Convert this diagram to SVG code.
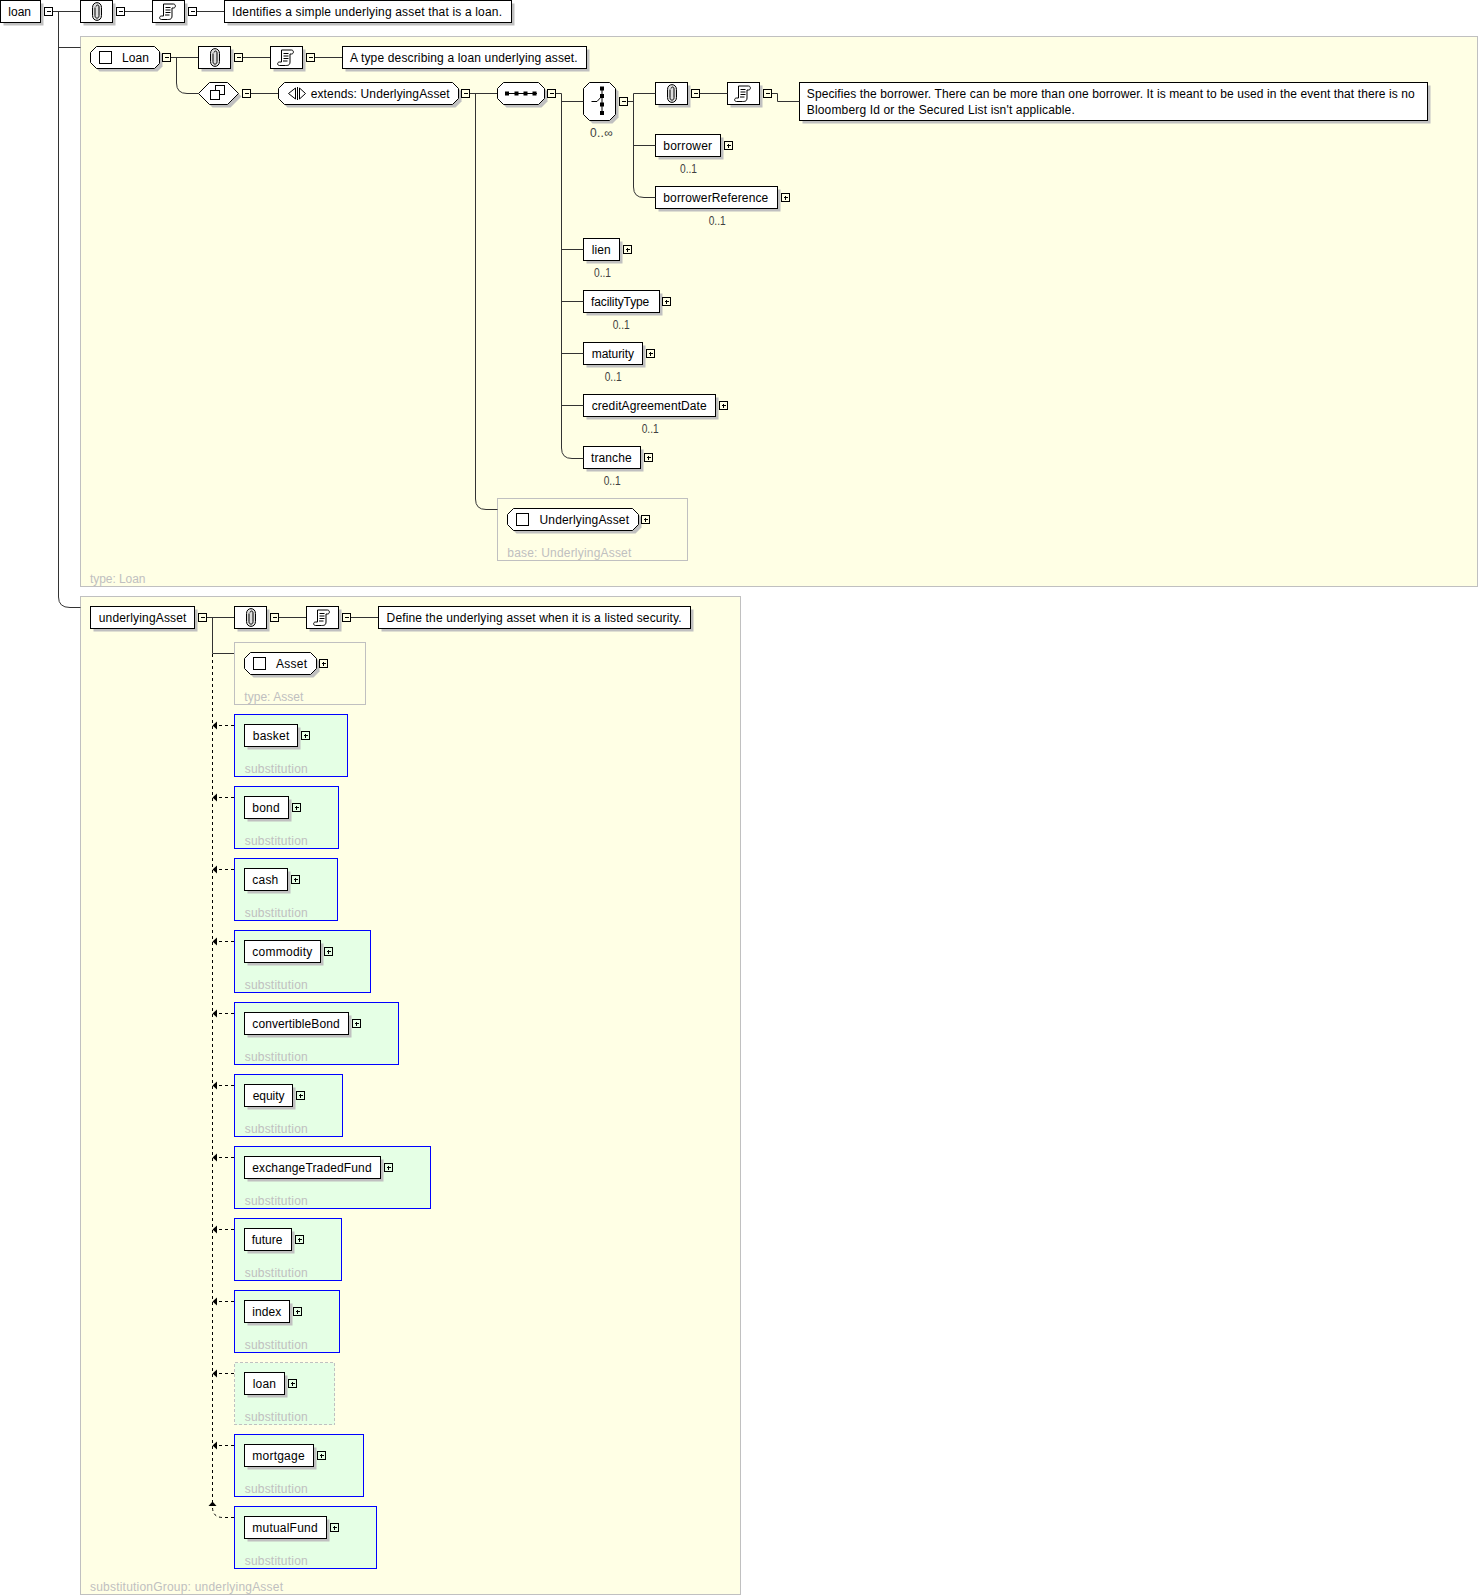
<svg xmlns="http://www.w3.org/2000/svg" width="1479" height="1596" viewBox="0 0 1479 1596">
<style>
text{font-family:"Liberation Sans",Arial,sans-serif;font-size:12px;fill:#000}
.o{fill:#404040}
.g{fill:#c0c0c0}
.n{fill:#fff;stroke:#000;stroke-width:1;shape-rendering:crispEdges}
.h{fill:#fff;stroke:#000;stroke-width:1}
.s{fill:#c0c0c0;stroke:none}
.y{fill:#ffffe5;stroke:#c0c0c0;stroke-width:1;shape-rendering:crispEdges}
.b{fill:#e5ffe5;stroke:#00f;stroke-width:1;shape-rendering:crispEdges}
.d{fill:#e5ffe5;stroke:#c0c0c0;stroke-width:1;stroke-dasharray:3 2;shape-rendering:crispEdges}
.c{fill:none;stroke:#333;stroke-width:1;shape-rendering:geometricPrecision}
.a{fill:none;stroke:#000;stroke-width:1;stroke-dasharray:3 3}
.i{fill:none;stroke:#000;stroke-width:1}
.k{fill:#000;stroke:none}
</style>
<defs>
<g id="m"><rect class="i" x="0" y="0" width="8" height="8" shape-rendering="crispEdges"/><path class="i" d="M2 4H6" shape-rendering="crispEdges"/></g>
<g id="p"><rect class="i" x="0" y="0" width="8" height="8" shape-rendering="crispEdges"/><path class="i" d="M2 4H6M4 2V6" shape-rendering="crispEdges"/></g>
<g id="clip"><rect class="s" x="3" y="3" width="32" height="22"/><rect class="n" x="0" y="0" width="32" height="22"/><path fill="#ddd" stroke="#000" d="M12 7C12 .5 21 .5 21 7V15C21 21.500 12 21.500 12 15Z"/><path class="i" d="M14.500 7V15C14.500 18.500 18.500 18.500 18.500 15V6.500C18.500 4 16 4 15.500 6"/></g>
<g id="doc"><rect class="s" x="3" y="3" width="32" height="22"/><rect class="n" x="0" y="0" width="32" height="22"/><path class="i" d="M11 3.500H21C23.500 3.500 23.500 7.500 21 7.500H19.500V15.500C19.500 19 17 19 15 19H9C6.500 19 6.500 15.500 9 15.500H11Z"/><path class="i" d="M13 7H18M13 9.500H18M13 12H18M12.500 14.500H17" stroke-width="1.200"/></g>
<marker id="ar" markerUnits="userSpaceOnUse" markerWidth="6" markerHeight="10" refX="5" refY="4.500" orient="auto" viewBox="0 0 6 9"><path class="k" d="M0.500 0.500V8.500L5 4.500Z"/></marker>
</defs>

<g id="loan"><rect class="s" x="3.500" y="3.500" width="40" height="22"/><rect class="n" x="0.500" y="0.500" width="40" height="22"/><text x="8.300" y="16" textLength="22.700">loan</text><use href="#m" x="44.500" y="7.500"/></g>
<g id="loan-annotation"><use href="#clip" x="80.500" y="0.500"/><use href="#m" x="116.500" y="7.500"/></g>
<g id="loan-doc"><use href="#doc" x="152.500" y="0.500"/><use href="#m" x="188.500" y="7.500"/></g>
<g id="loan-text"><rect class="s" x="227.500" y="3.500" width="287" height="22"/><rect class="n" x="224.500" y="0.500" width="287" height="22"/><text x="232" y="16" textLength="270">Identifies a simple underlying asset that is a loan.</text></g>

<g id="type-loan"><rect class="y" x="80.500" y="36.500" width="1397" height="550"/><text class="g" x="90" y="583" textLength="55.500">type: Loan</text></g>

<g id="Loan"><path class="s" d="M99.500 49.500H157.500L162.500 54.500V66.500L157.500 71.500H99.500L93.500 65.500V55.500Z"/><path class="h" d="M96.500 46.500H154.500L159.500 51.500V63.500L154.500 68.500H96.500L90.500 62.500V52.500Z"/><rect class="n" x="99.500" y="51.500" width="12" height="12"/><text x="122" y="62" textLength="27">Loan</text><use href="#m" x="162.500" y="53.500"/></g>
<g id="Loan-annotation"><use href="#clip" x="198.500" y="46.500"/><use href="#m" x="234.500" y="53.500"/></g>
<g id="Loan-doc"><use href="#doc" x="270.500" y="46.500"/><use href="#m" x="306.500" y="53.500"/></g>
<g id="Loan-text"><rect class="s" x="345.500" y="49.500" width="244" height="22"/><rect class="n" x="342.500" y="46.500" width="244" height="22"/><text x="350" y="62" textLength="227.700">A type describing a loan underlying asset.</text></g>

<g id="complex-content"><path class="s" d="M201.500 96.500L212.500 85.500H230.500L241.500 96.500L230.500 107.500H212.500Z"/><path class="h" d="M198.500 93.500L209.500 82.500H227.500L238.500 93.500L227.500 104.500H209.500Z"/><rect class="n" x="215.500" y="85.500" width="9" height="9"/><rect class="n" x="210.500" y="90.500" width="9" height="9"/><use href="#m" x="242.500" y="89.500"/></g>
<g id="extends"><path class="s" d="M287.500 85.500H455.500L461.500 91.500V101.500L455.500 107.500H287.500L281.500 101.500V91.500Z"/><path class="h" d="M284.500 82.500H452.500L458.500 88.500V98.500L452.500 104.500H284.500L278.500 98.500V88.500Z"/><path class="i" d="M295.500 88L288.500 93.500L295.500 99ZM299.500 88L305.500 93.500L299.500 99ZM297.500 87V100"/><text x="310.700" y="98" textLength="139">extends: UnderlyingAsset</text><use href="#m" x="461.500" y="89.500"/></g>
<g id="sequence"><path class="s" d="M506.500 85.500H541.500L547.500 91.500V101.500L541.500 107.500H506.500L500.500 101.500V91.500Z"/><path class="h" d="M503.500 82.500H538.500L544.500 88.500V98.500L538.500 104.500H503.500L497.500 98.500V88.500Z"/><path class="i" d="M505 93.500H537"/><path class="k" d="M505 91.500h4v4h-4zM514.500 91.500h4v4h-4zM523.500 91.500h4v4h-4zM532.500 91.500h4v4h-4z"/><use href="#m" x="547.500" y="89.500"/></g>
<g id="choice"><path class="s" d="M592.500 85.500H612.500L618.500 91.500V117.500L612.500 123.500H592.500L586.500 117.500V91.500Z"/><path class="h" d="M589.500 82.500H609.500L615.500 88.500V114.500L609.500 120.500H589.500L583.500 114.500V88.500Z"/><path class="i" d="M602 88V114M591.500 101.500H597L602 96"/><path class="k" d="M600 86.500h4v4h-4zM600 94h4v4h-4zM600 102.500h4v4h-4zM600 111h4v4h-4z"/><use href="#m" x="619.500" y="97.500"/><text class="o" x="590" y="137" textLength="22.700">0..∞</text></g>
<g id="choice-annotation"><use href="#clip" x="655.500" y="82.500"/><use href="#m" x="691.500" y="89.500"/></g>
<g id="choice-doc"><use href="#doc" x="727.500" y="82.500"/><use href="#m" x="763.500" y="89.500"/></g>
<g id="choice-text"><rect class="s" x="802.500" y="85.500" width="628" height="38"/><rect class="n" x="799.500" y="82.500" width="628" height="38"/><text x="806.800" y="98" textLength="608">Specifies the borrower. There can be more than one borrower. It is meant to be used in the event that there is no</text><text x="806.800" y="114" textLength="268">Bloomberg Id or the Secured List isn't applicable.</text></g>

<g id="borrower"><rect class="s" x="658.500" y="137.500" width="65" height="22"/><rect class="n" x="655.500" y="134.500" width="65" height="22"/><text x="663.300" y="150" textLength="48.700">borrower</text><use href="#p" x="724.500" y="141.500"/><text class="o" x="680" y="173" textLength="17" lengthAdjust="spacingAndGlyphs">0..1</text></g>
<g id="borrowerReference"><rect class="s" x="658.500" y="189.500" width="122" height="22"/><rect class="n" x="655.500" y="186.500" width="122" height="22"/><text x="663.300" y="202" textLength="105">borrowerReference</text><use href="#p" x="781.500" y="193.500"/><text class="o" x="708.700" y="225" textLength="17" lengthAdjust="spacingAndGlyphs">0..1</text></g>
<g id="lien"><rect class="s" x="586.500" y="241.500" width="36" height="22"/><rect class="n" x="583.500" y="238.500" width="36" height="22"/><text x="591.700" y="254" textLength="19">lien</text><use href="#p" x="623.500" y="245.500"/><text class="o" x="594" y="277" textLength="17" lengthAdjust="spacingAndGlyphs">0..1</text></g>
<g id="facilityType"><rect class="s" x="586.500" y="293.500" width="76" height="22"/><rect class="n" x="583.500" y="290.500" width="76" height="22"/><text x="591" y="306" textLength="58.300">facilityType</text><use href="#p" x="662.500" y="297.500"/><text class="o" x="612.700" y="329" textLength="17" lengthAdjust="spacingAndGlyphs">0..1</text></g>
<g id="maturity"><rect class="s" x="586.500" y="345.500" width="59" height="22"/><rect class="n" x="583.500" y="342.500" width="59" height="22"/><text x="591.700" y="358" textLength="42.300">maturity</text><use href="#p" x="646.500" y="349.500"/><text class="o" x="604.700" y="381" textLength="17" lengthAdjust="spacingAndGlyphs">0..1</text></g>
<g id="creditAgreementDate"><rect class="s" x="586.500" y="397.500" width="132" height="22"/><rect class="n" x="583.500" y="394.500" width="132" height="22"/><text x="591.700" y="410" textLength="115">creditAgreementDate</text><use href="#p" x="719.500" y="401.500"/><text class="o" x="641.700" y="433" textLength="17" lengthAdjust="spacingAndGlyphs">0..1</text></g>
<g id="tranche"><rect class="s" x="586.500" y="449.500" width="57" height="22"/><rect class="n" x="583.500" y="446.500" width="57" height="22"/><text x="591" y="462" textLength="40.700">tranche</text><use href="#p" x="644.500" y="453.500"/><text class="o" x="603.700" y="485" textLength="17" lengthAdjust="spacingAndGlyphs">0..1</text></g>

<g id="base-UnderlyingAsset"><rect class="y" x="497.500" y="498.500" width="190" height="62"/><path class="s" d="M516.500 511.500H635.500L641.500 517.500V527.500L635.500 533.500H516.500L510.500 527.500V517.500Z"/><path class="h" d="M513.500 508.500H632.500L638.500 514.500V524.500L632.500 530.500H513.500L507.500 524.500V514.500Z"/><rect class="n" x="516.500" y="513.500" width="12" height="12"/><text x="539.500" y="524" textLength="89.500">UnderlyingAsset</text><use href="#p" x="641.500" y="515.500"/><text class="g" x="507.300" y="557" textLength="124">base: UnderlyingAsset</text></g>

<g id="substitutionGroup"><rect class="y" x="80.500" y="596.500" width="660" height="998"/><text class="g" x="90" y="1591" textLength="193">substitutionGroup: underlyingAsset</text></g>
<g id="underlyingAsset"><rect class="s" x="93.500" y="609.500" width="104" height="22"/><rect class="n" x="90.500" y="606.500" width="104" height="22"/><text x="98.700" y="622" textLength="87.700">underlyingAsset</text><use href="#m" x="198.500" y="613.500"/></g>
<g id="underlyingAsset-annotation"><use href="#clip" x="234.500" y="606.500"/><use href="#m" x="270.500" y="613.500"/></g>
<g id="underlyingAsset-doc"><use href="#doc" x="306.500" y="606.500"/><use href="#m" x="342.500" y="613.500"/></g>
<g id="underlyingAsset-text"><rect class="s" x="381.500" y="609.500" width="312" height="22"/><rect class="n" x="378.500" y="606.500" width="312" height="22"/><text x="386.600" y="622" textLength="295">Define the underlying asset when it is a listed security.</text></g>

<g id="type-Asset"><rect class="y" x="234.500" y="642.500" width="131" height="62"/><path class="s" d="M253.500 655.500H313.500L319.500 661.500V671.500L313.500 677.500H253.500L247.500 671.500V661.500Z"/><path class="h" d="M250.500 652.500H310.500L316.500 658.500V668.500L310.500 674.500H250.500L244.500 668.500V658.500Z"/><rect class="n" x="253.500" y="657.500" width="12" height="12"/><text x="276" y="668" textLength="31">Asset</text><use href="#p" x="319.500" y="659.500"/><text class="g" x="244.300" y="701" textLength="59">type: Asset</text></g>

<g id="basket"><rect class="b" x="234.500" y="714.500" width="113" height="62"/><rect class="s" x="247.500" y="727.500" width="53" height="22"/><rect class="n" x="244.500" y="724.500" width="53" height="22"/><text x="252.700" y="740" textLength="36.700">basket</text><use href="#p" x="301.500" y="731.500"/><text class="g" x="244.700" y="773" textLength="63">substitution</text></g>
<g id="bond"><rect class="b" x="234.500" y="786.500" width="104" height="62"/><rect class="s" x="247.500" y="799.500" width="44" height="22"/><rect class="n" x="244.500" y="796.500" width="44" height="22"/><text x="252.300" y="812" textLength="27.300">bond</text><use href="#p" x="292.500" y="803.500"/><text class="g" x="244.700" y="845" textLength="63">substitution</text></g>
<g id="cash"><rect class="b" x="234.500" y="858.500" width="103" height="62"/><rect class="s" x="247.500" y="871.500" width="43" height="22"/><rect class="n" x="244.500" y="868.500" width="43" height="22"/><text x="252.300" y="884" textLength="26">cash</text><use href="#p" x="291.500" y="875.500"/><text class="g" x="244.700" y="917" textLength="63">substitution</text></g>
<g id="commodity"><rect class="b" x="234.500" y="930.500" width="136" height="62"/><rect class="s" x="247.500" y="943.500" width="76" height="22"/><rect class="n" x="244.500" y="940.500" width="76" height="22"/><text x="252.300" y="956" textLength="60">commodity</text><use href="#p" x="324.500" y="947.500"/><text class="g" x="244.700" y="989" textLength="63">substitution</text></g>
<g id="convertibleBond"><rect class="b" x="234.500" y="1002.500" width="164" height="62"/><rect class="s" x="247.500" y="1015.500" width="104" height="22"/><rect class="n" x="244.500" y="1012.500" width="104" height="22"/><text x="252.300" y="1028" textLength="87.300">convertibleBond</text><use href="#p" x="352.500" y="1019.500"/><text class="g" x="244.700" y="1061" textLength="63">substitution</text></g>
<g id="equity"><rect class="b" x="234.500" y="1074.500" width="108" height="62"/><rect class="s" x="247.500" y="1087.500" width="48" height="22"/><rect class="n" x="244.500" y="1084.500" width="48" height="22"/><text x="252.700" y="1100" textLength="31.700">equity</text><use href="#p" x="296.500" y="1091.500"/><text class="g" x="244.700" y="1133" textLength="63">substitution</text></g>
<g id="exchangeTradedFund"><rect class="b" x="234.500" y="1146.500" width="196" height="62"/><rect class="s" x="247.500" y="1159.500" width="136" height="22"/><rect class="n" x="244.500" y="1156.500" width="136" height="22"/><text x="252.300" y="1172" textLength="119.300">exchangeTradedFund</text><use href="#p" x="384.500" y="1163.500"/><text class="g" x="244.700" y="1205" textLength="63">substitution</text></g>
<g id="future"><rect class="b" x="234.500" y="1218.500" width="107" height="62"/><rect class="s" x="247.500" y="1231.500" width="47" height="22"/><rect class="n" x="244.500" y="1228.500" width="47" height="22"/><text x="251.700" y="1244" textLength="30.700">future</text><use href="#p" x="295.500" y="1235.500"/><text class="g" x="244.700" y="1277" textLength="63">substitution</text></g>
<g id="index"><rect class="b" x="234.500" y="1290.500" width="105" height="62"/><rect class="s" x="247.500" y="1303.500" width="45" height="22"/><rect class="n" x="244.500" y="1300.500" width="45" height="22"/><text x="252.300" y="1316" textLength="29">index</text><use href="#p" x="293.500" y="1307.500"/><text class="g" x="244.700" y="1349" textLength="63">substitution</text></g>
<g id="loan-ref"><rect class="d" x="234.500" y="1362.500" width="100" height="62"/><rect class="s" x="247.500" y="1375.500" width="40" height="22"/><rect class="n" x="244.500" y="1372.500" width="40" height="22"/><text x="252.700" y="1388" textLength="23.300">loan</text><use href="#p" x="288.500" y="1379.500"/><text class="g" x="244.700" y="1421" textLength="63">substitution</text></g>
<g id="mortgage"><rect class="b" x="234.500" y="1434.500" width="129" height="62"/><rect class="s" x="247.500" y="1447.500" width="69" height="22"/><rect class="n" x="244.500" y="1444.500" width="69" height="22"/><text x="252.300" y="1460" textLength="52.300">mortgage</text><use href="#p" x="317.500" y="1451.500"/><text class="g" x="244.700" y="1493" textLength="63">substitution</text></g>
<g id="mutualFund"><rect class="b" x="234.500" y="1506.500" width="142" height="62"/><rect class="s" x="247.500" y="1519.500" width="82" height="22"/><rect class="n" x="244.500" y="1516.500" width="82" height="22"/><text x="252.300" y="1532" textLength="65.300">mutualFund</text><use href="#p" x="330.500" y="1523.500"/><text class="g" x="244.700" y="1565" textLength="63">substitution</text></g>

<g id="connectors">
<path class="c" d="M53 11.500H80M58.500 11.500V597Q58.500 607.500 70 607.500H80.500M58.500 47.500H80.500"/>
<path class="c" d="M125 11.500H152M197 11.500H224"/>
<path class="c" d="M171 57.500H198M243 57.500H270M315 57.500H342M176.500 57.500V83Q176.500 93.500 187 93.500H198.500M251 93.500H278M470 93.500H497M475.500 93.500V499Q475.500 509.500 486 509.500H497.500M556 93.500H561.500V448Q561.500 458.500 572 458.500H583.500M561.500 101.500H583.500M561.500 249.500H583.500M561.500 301.500H583.500M561.500 353.500H583.500M561.500 405.500H583.500"/>
<path class="c" d="M628 101.500H633.500M633.500 93.500H655.500M633.500 93.500V187Q633.500 197.500 644 197.500H655.500M633.500 145.500H655.500M700 93.500H727.500M772 93.500H777.500V101.500H799.500"/>
<path class="c" d="M207 617.500H234M279 617.500H306M351 617.500H378M212.500 617.500V653.500M212.500 653.500H234"/>
<path class="a" d="M212.500 654V1503"/>
<path class="a" marker-end="url(#ar)" d="M234 725.500H212.500"/>
<path class="a" marker-end="url(#ar)" d="M234 797.500H212.500"/>
<path class="a" marker-end="url(#ar)" d="M234 869.500H212.500"/>
<path class="a" marker-end="url(#ar)" d="M234 941.500H212.500"/>
<path class="a" marker-end="url(#ar)" d="M234 1013.500H212.500"/>
<path class="a" marker-end="url(#ar)" d="M234 1085.500H212.500"/>
<path class="a" marker-end="url(#ar)" d="M234 1157.500H212.500"/>
<path class="a" marker-end="url(#ar)" d="M234 1229.500H212.500"/>
<path class="a" marker-end="url(#ar)" d="M234 1301.500H212.500"/>
<path class="a" marker-end="url(#ar)" d="M234 1373.500H212.500"/>
<path class="a" marker-end="url(#ar)" d="M234 1445.500H212.500"/>
<path class="a" marker-end="url(#ar)" d="M234 1517.500H223Q212.500 1517.500 212.500 1507V1501.500"/>
</g>
</svg>
